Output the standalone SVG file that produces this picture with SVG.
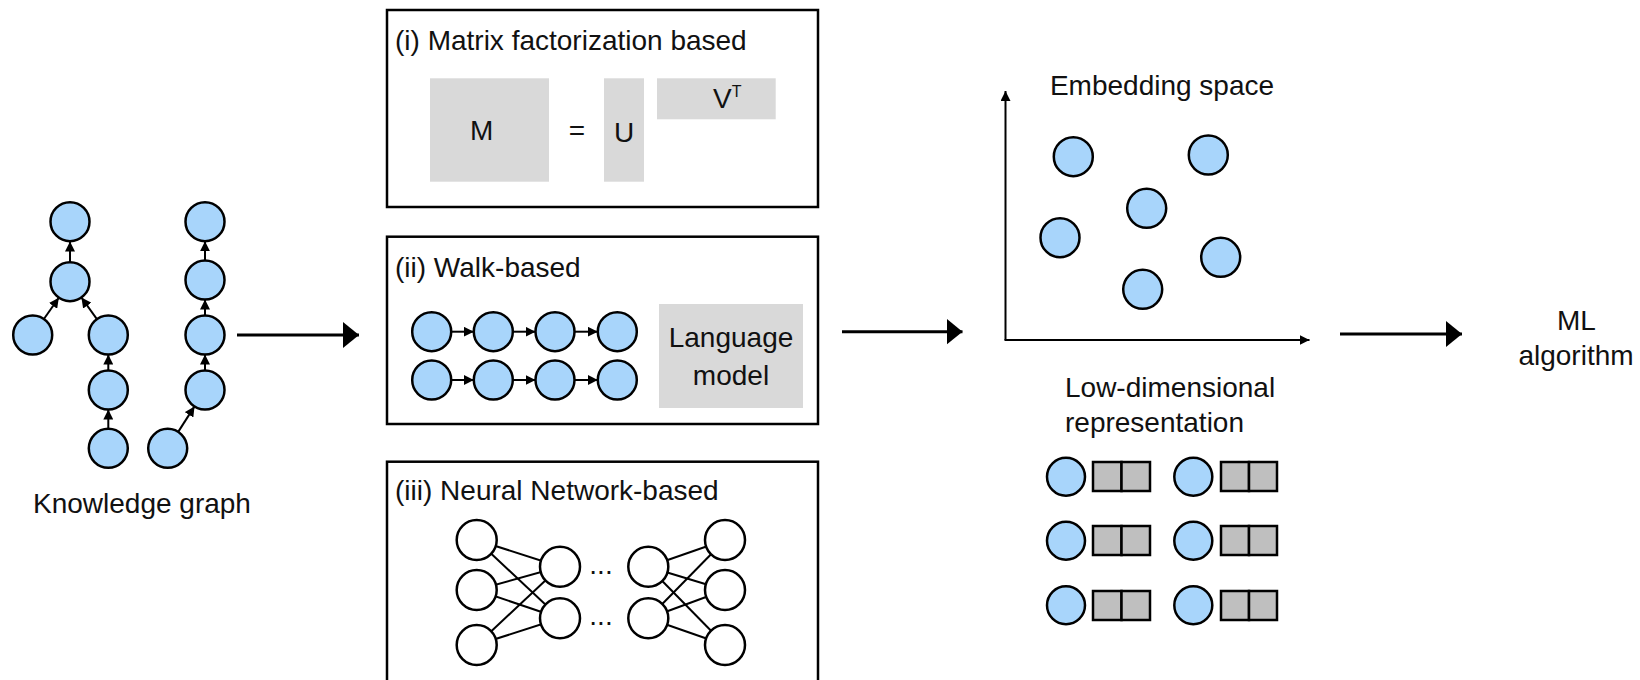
<svg xmlns="http://www.w3.org/2000/svg" width="1640" height="680" viewBox="0 0 1640 680">
<defs>
<style>
text{font-family:"Liberation Sans",Arial,sans-serif;font-size:28px;fill:#111}
.n{fill:#a8d5fb;stroke:#000;stroke-width:2.5}
.w{fill:#fff;stroke:#000;stroke-width:2.5}
.box{fill:none;stroke:#000;stroke-width:2.5}
.g1{fill:#d9d9d9}
.g2{fill:#bfbfbf;stroke:#000;stroke-width:2.5}
.e{stroke:#000;stroke-width:2;fill:none}
.big{stroke:#000;stroke-width:3;fill:none}
.c{text-anchor:middle}
</style>
<marker id="sa" markerUnits="userSpaceOnUse" markerWidth="10" markerHeight="10" refX="10" refY="5" orient="auto"><path d="M0,0 L10,5 L0,10 z" fill="#000"/></marker>
<marker id="ba" markerUnits="userSpaceOnUse" markerWidth="16" markerHeight="26" refX="16" refY="13" orient="auto"><path d="M0,0 L16,13 L0,26 z" fill="#000"/></marker>
</defs>

<g id="connectors">
<line class="e" x1="70" y1="262" x2="70" y2="241.5" marker-end="url(#sa)"/>
<line class="e" x1="43.9" y1="319" x2="58.8" y2="297.7" marker-end="url(#sa)"/>
<line class="e" x1="96.9" y1="319.2" x2="81.4" y2="297.5" marker-end="url(#sa)"/>
<line class="e" x1="108.3" y1="370.5" x2="108.3" y2="354.5" marker-end="url(#sa)"/>
<line class="e" x1="108.3" y1="428.8" x2="108.3" y2="409.5" marker-end="url(#sa)"/>
<line class="e" x1="205" y1="260.5" x2="205" y2="241.2" marker-end="url(#sa)"/>
<line class="e" x1="205" y1="315.5" x2="205" y2="299.5" marker-end="url(#sa)"/>
<line class="e" x1="205" y1="370.5" x2="205" y2="354.5" marker-end="url(#sa)"/>
<line class="e" x1="178.2" y1="431.9" x2="194.5" y2="406.4" marker-end="url(#sa)"/>
<line class="big" x1="237" y1="335" x2="359" y2="335" marker-end="url(#ba)"/>
<line class="big" x1="842" y1="331.7" x2="962.5" y2="331.7" marker-end="url(#ba)"/>
<line class="big" x1="1340" y1="334" x2="1462" y2="334" marker-end="url(#ba)"/>
</g>

<g id="knowledge-graph">
<circle class="n" cx="70" cy="221.7" r="19.5"/>
<circle class="n" cx="70" cy="281.7" r="19.5"/>
<circle class="n" cx="32.7" cy="335" r="19.5"/>
<circle class="n" cx="108.3" cy="335" r="19.5"/>
<circle class="n" cx="108.3" cy="390" r="19.5"/>
<circle class="n" cx="108.3" cy="448.3" r="19.5"/>
<circle class="n" cx="205" cy="221.7" r="19.5"/>
<circle class="n" cx="205" cy="280" r="19.5"/>
<circle class="n" cx="205" cy="335" r="19.5"/>
<circle class="n" cx="205" cy="390" r="19.5"/>
<circle class="n" cx="167.7" cy="448.3" r="19.5"/>
<text x="33" y="513">Knowledge graph</text>
</g>

<g id="matrix-factorization">
<rect class="box" x="387" y="10" width="431" height="197"/>
<text x="395" y="50">(i) Matrix factorization based</text>
<rect class="g1" x="430" y="78.3" width="119" height="103.4"/>
<rect class="g1" x="604" y="78.3" width="40" height="103.4"/>
<rect class="g1" x="657" y="78.3" width="118.7" height="41"/>
<text class="c" x="481.7" y="140">M</text>
<text class="c" x="577" y="140">=</text>
<text class="c" x="624" y="141.7">U</text>
<text x="713" y="108.3">V<tspan font-size="16" dy="-11.6">T</tspan></text>
</g>

<g id="walk-based">
<rect class="box" x="387" y="236.7" width="431" height="187.3"/>
<text x="395" y="276.7">(ii) Walk-based</text>
<g class="e">
<line x1="451.2" y1="331.7" x2="473.8" y2="331.7" marker-end="url(#sa)"/>
<line x1="512.8" y1="331.7" x2="535.5" y2="331.7" marker-end="url(#sa)"/>
<line x1="574.5" y1="331.7" x2="597.8" y2="331.7" marker-end="url(#sa)"/>
<line x1="451.2" y1="380" x2="473.8" y2="380" marker-end="url(#sa)"/>
<line x1="512.8" y1="380" x2="535.5" y2="380" marker-end="url(#sa)"/>
<line x1="574.5" y1="380" x2="597.8" y2="380" marker-end="url(#sa)"/>
</g>
<circle class="n" cx="431.7" cy="331.7" r="19.5"/>
<circle class="n" cx="493.3" cy="331.7" r="19.5"/>
<circle class="n" cx="555" cy="331.7" r="19.5"/>
<circle class="n" cx="617.3" cy="331.7" r="19.5"/>
<circle class="n" cx="431.7" cy="380" r="19.5"/>
<circle class="n" cx="493.3" cy="380" r="19.5"/>
<circle class="n" cx="555" cy="380" r="19.5"/>
<circle class="n" cx="617.3" cy="380" r="19.5"/>
<rect class="g1" x="659" y="304" width="144" height="104"/>
<text class="c" x="731" y="346.7">Language</text>
<text class="c" x="731" y="385">model</text>
</g>

<g id="neural-network">
<rect class="box" x="387" y="461.7" width="431" height="240"/>
<text x="395" y="500">(iii) Neural Network-based</text>
<g class="e">
<line x1="476.7" y1="540" x2="560" y2="566.7"/>
<line x1="476.7" y1="540" x2="560" y2="618.3"/>
<line x1="476.7" y1="590" x2="560" y2="566.7"/>
<line x1="476.7" y1="590" x2="560" y2="618.3"/>
<line x1="476.7" y1="645" x2="560" y2="566.7"/>
<line x1="476.7" y1="645" x2="560" y2="618.3"/>
<line x1="648.3" y1="566.7" x2="725" y2="540"/>
<line x1="648.3" y1="566.7" x2="725" y2="590"/>
<line x1="648.3" y1="566.7" x2="725" y2="645"/>
<line x1="648.3" y1="618.3" x2="725" y2="540"/>
<line x1="648.3" y1="618.3" x2="725" y2="590"/>
<line x1="648.3" y1="618.3" x2="725" y2="645"/>
</g>
<circle class="w" cx="476.7" cy="540" r="20"/>
<circle class="w" cx="476.7" cy="590" r="20"/>
<circle class="w" cx="476.7" cy="645" r="20"/>
<circle class="w" cx="560" cy="566.7" r="20"/>
<circle class="w" cx="560" cy="618.3" r="20"/>
<circle class="w" cx="648.3" cy="566.7" r="20"/>
<circle class="w" cx="648.3" cy="618.3" r="20"/>
<circle class="w" cx="725" cy="540" r="20"/>
<circle class="w" cx="725" cy="590" r="20"/>
<circle class="w" cx="725" cy="645" r="20"/>
<text class="c" x="601" y="574" font-size="18">...</text>
<text class="c" x="601" y="625" font-size="18">...</text>
</g>

<g id="embedding-space">
<line x1="1005.5" y1="340" x2="1005.5" y2="91" stroke="#000" stroke-width="2" marker-end="url(#sa)"/>
<line x1="1004.5" y1="340" x2="1309.5" y2="340" stroke="#000" stroke-width="2" marker-end="url(#sa)"/>
<text class="c" x="1162" y="95">Embedding space</text>
<circle class="n" cx="1073.3" cy="156.7" r="19.5"/>
<circle class="n" cx="1208.3" cy="155" r="19.5"/>
<circle class="n" cx="1146.7" cy="208.3" r="19.5"/>
<circle class="n" cx="1060" cy="237.7" r="19.5"/>
<circle class="n" cx="1220.7" cy="257.3" r="19.5"/>
<circle class="n" cx="1142.7" cy="289.3" r="19.5"/>
</g>

<g id="low-dimensional">
<text x="1065" y="396.7">Low-dimensional</text>
<text x="1065" y="431.7">representation</text>
<circle class="n" cx="1066" cy="476.7" r="19"/>
<circle class="n" cx="1193.3" cy="476.7" r="19"/>
<circle class="n" cx="1066" cy="540.7" r="19"/>
<circle class="n" cx="1193.3" cy="540.7" r="19"/>
<circle class="n" cx="1066" cy="605.3" r="19"/>
<circle class="n" cx="1193.3" cy="605.3" r="19"/>
<rect class="g2" x="1093" y="462" width="28.5" height="29"/>
<rect class="g2" x="1121.5" y="462" width="28.5" height="29"/>
<rect class="g2" x="1221" y="462" width="28" height="29"/>
<rect class="g2" x="1249" y="462" width="28" height="29"/>
<rect class="g2" x="1093" y="526" width="28.5" height="29"/>
<rect class="g2" x="1121.5" y="526" width="28.5" height="29"/>
<rect class="g2" x="1221" y="526" width="28" height="29"/>
<rect class="g2" x="1249" y="526" width="28" height="29"/>
<rect class="g2" x="1093" y="591" width="28.5" height="29"/>
<rect class="g2" x="1121.5" y="591" width="28.5" height="29"/>
<rect class="g2" x="1221" y="591" width="28" height="29"/>
<rect class="g2" x="1249" y="591" width="28" height="29"/>
</g>

<g id="ml-algorithm">
<text class="c" x="1576.5" y="330">ML</text>
<text class="c" x="1576" y="365">algorithm</text>
</g>
</svg>
